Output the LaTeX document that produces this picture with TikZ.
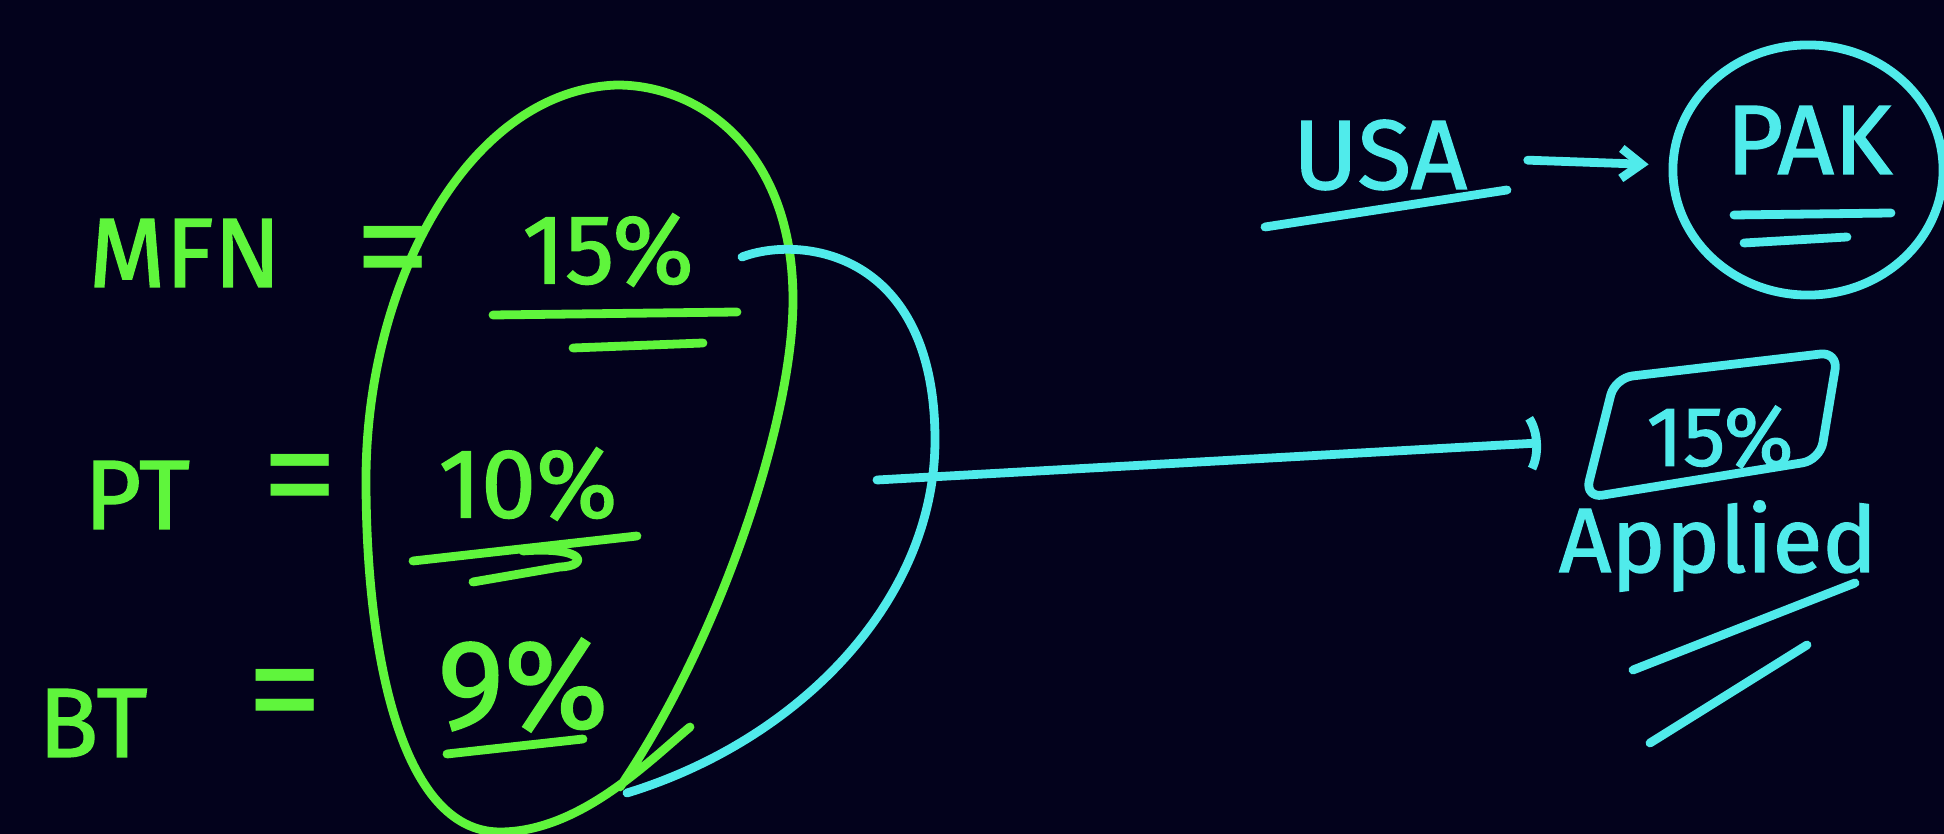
\documentclass[tikz,border=0pt]{standalone}
\usepackage{fontspec}
\setmainfont{Fira Sans}[AutoFakeBold=1.4]
\usepackage{tikz}
\usetikzlibrary{arrows.meta, shapes.geometric}

\definecolor{board}{HTML}{03021C}
\definecolor{pengreen}{HTML}{5FF53C}
\definecolor{pencyan}{HTML}{50EBEB}

\begin{document}
\begin{tikzpicture}[
    x=0.01cm, y=-0.01cm,
    hand/.style={inner sep=0pt, font=\fontsize{28}{30}\selectfont\bfseries},
    gtext/.style={hand, text=pengreen},
    ctext/.style={hand, text=pencyan},
    eqsign/.style={gtext, font=\fontsize{44}{44}\selectfont},
    gpen/.style={draw=pengreen, line width=2.5pt, line cap=round, line join=round},
    cpen/.style={draw=pencyan, line width=2.5pt, line cap=round, line join=round},
    pointer/.style={cpen, -{Arc Barb[arc=90, length=2.5mm, width=8mm]}},
]

% Board
\fill[board] (0,0) rectangle (1944,834);
\useasboundingbox (0,0) rectangle (1944,834);

% === Tariff labels (green) ===
\node[gtext] (mfn) at (185,253) {MFN};
\node[eqsign] (eqmfn) at (393,262) {=};
\node[gtext] (pt) at (137,495) {PT};
\node[eqsign] (eqpt) at (300,490) {=};
\node[gtext] (bt) at (93,723) {BT};
\node[eqsign] (eqbt) at (285,705) {=};

\node[gtext] (mfnrate) at (608,250) {15\%};
\node[gtext] (ptrate) at (528,484) {10\%};
\node[gtext, font=\fontsize{36}{38}\selectfont\bfseries] (btrate) at (523,685) {9\%};

% underlines
\draw[gpen] (493,315) -- (737,312);
\draw[gpen] (573,348) -- (703,343);
\draw[gpen] (413,561) -- (637,536);
\draw[gpen] (523,551) .. controls (585,546) and (590,566) .. (560,567) -- (473,582);
\draw[gpen] (447,754) -- (583,739);

% loop round the rates
\draw[gpen] (620,787) .. controls (720,640) and (793,420) .. (793,300)
    .. controls (793,150) and (700,85) .. (617,85)
    .. controls (470,90) and (366,280) .. (366,480)
    .. controls (366,650) and (400,832) .. (500,832)
    .. controls (580,832) and (650,760) .. (690,727);

% === Bracket and pointer (cyan) ===
\draw[cpen] (742,257) .. controls (800,235) and (935,250) .. (935,440)
    .. controls (935,600) and (800,740) .. (627,793);
\coordinate (brk) at (877,480);

\node[ctext, font=\fontsize{24}{26}\selectfont\bfseries] (boxrate) at (1720,437) {15\%};
\draw[cpen, rounded corners=5pt] (1585,498) -- (1615,378) -- (1838,352) -- (1820,460) -- cycle;
\draw[pointer, shorten >=1.05cm] (brk) -- (boxrate.west);

\node[ctext, font=\fontsize{26}{28}\selectfont\bfseries, anchor=base] (applied) at (1718,572) {Applied};
\draw[cpen] (1633,670) -- (1855,583);
\draw[cpen] (1650,743) -- (1807,645);

% === USA -> PAK ===
\node[ctext] (usa) at (1380,155) {USA};
\draw[cpen] (1265,227) -- (1507,190);
\node[ellipse, cpen, minimum width=2.7cm, minimum height=2.5cm] (pakring) at (1808,170) {};
\node[ctext] (pak) at (1809,140) {PAK};
\draw[cpen] (1734,215) -- (1891,213);
\draw[cpen] (1744,243) -- (1847,237);
\draw[cpen, -{Straight Barb[length=2mm, width=3mm]}, shorten <=0.6cm, shorten >=0.2cm] (usa) -- (pakring);

\end{tikzpicture}
\end{document}
